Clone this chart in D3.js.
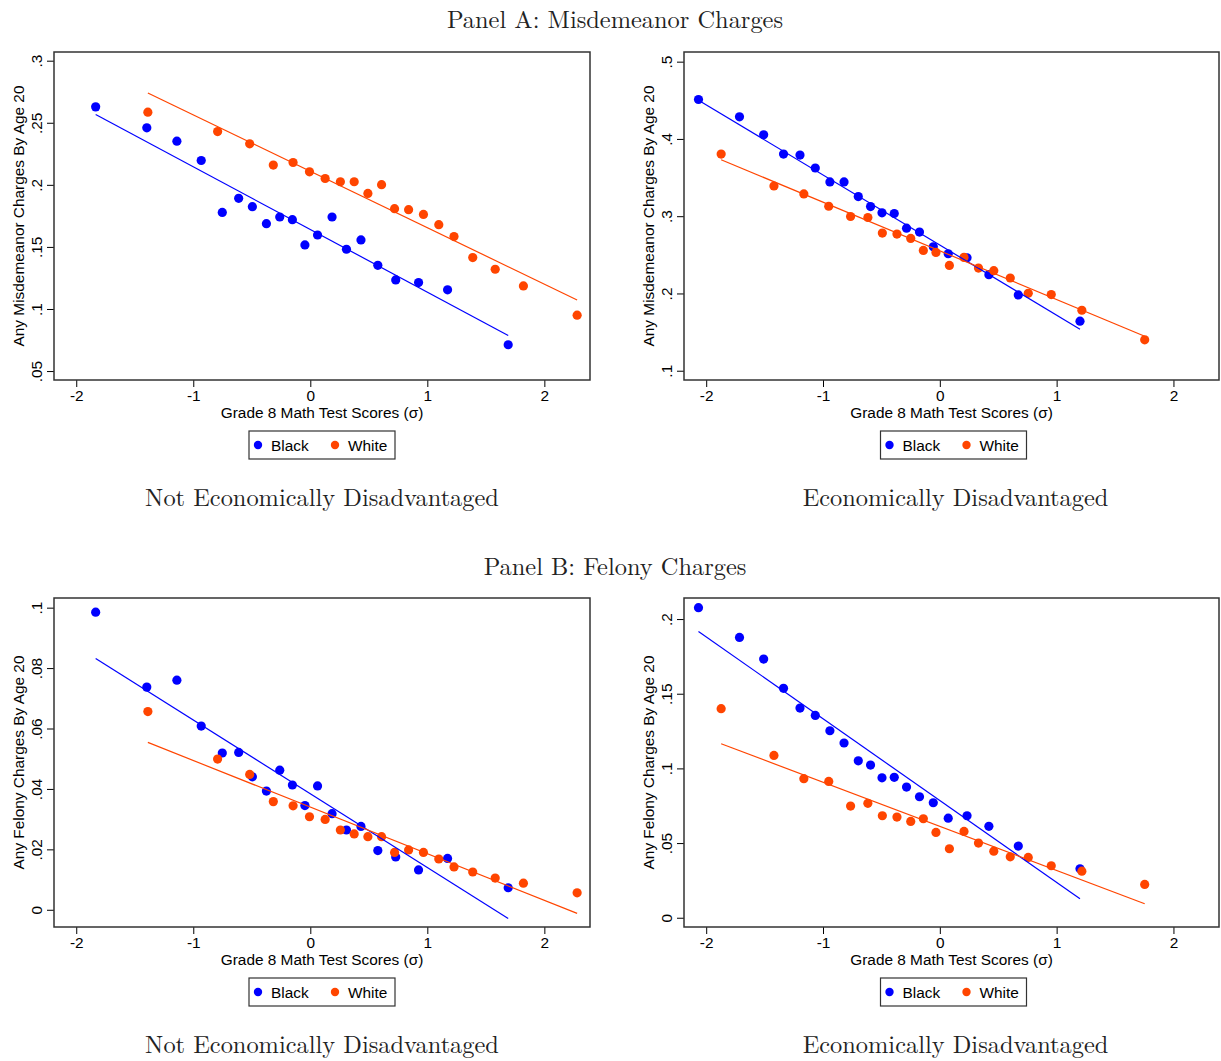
<!DOCTYPE html>
<html><head><meta charset="utf-8">
<script src="https://cdn.jsdelivr.net/npm/d3@7"></script>
<style>body{margin:0;background:#fff}svg{display:block}</style>
</head><body>
<svg id="chart" width="1221" height="1061"></svg>
<script>
// ---- data ----
const seriesNames = ["Black", "White"];
const panelTitles = ["Panel A: Misdemeanor Charges", "Panel B: Felony Charges"];
const groupTitles = ["Not Economically Disadvantaged", "Economically Disadvantaged"];
const xTitle = "Grade 8 Math Test Scores (σ)";
const yTitles = ["Any Misdemeanor Charges By Age 20", "Any Felony Charges By Age 20"];
const xTicks = [-2, -1, 0, 1, 2];
const yTicksMisdNED = [0.05, 0.1, 0.15, 0.2, 0.25, 0.3];
const yTicksMisdED = [0.1, 0.2, 0.3, 0.4, 0.5];
const yTicksFelNED = [0, 0.02, 0.04, 0.06, 0.08, 0.1];
const yTicksFelED = [0, 0.05, 0.1, 0.15, 0.2];

const xBlackNED = [-1.834,-1.397,-1.140,-0.932,-0.752,-0.612,-0.495,-0.375,-0.261,-0.153,-0.046,0.062,0.186,0.309,0.433,0.577,0.730,0.925,1.173,1.691];
const xWhiteNED = [-1.388,-0.792,-0.518,-0.316,-0.147,-0.007,0.127,0.257,0.375,0.492,0.609,0.720,0.840,0.967,1.098,1.228,1.388,1.580,1.821,2.280];
const xBlackED = [-2.066,-1.715,-1.508,-1.338,-1.197,-1.066,-0.941,-0.820,-0.698,-0.593,-0.495,-0.390,-0.285,-0.174,-0.056,0.072,0.233,0.420,0.672,1.200];
const xWhiteED = [-1.872,-1.420,-1.164,-0.951,-0.764,-0.616,-0.492,-0.367,-0.249,-0.141,-0.033,0.082,0.207,0.331,0.462,0.603,0.757,0.954,1.216,1.754];

const misdBlackNED = [0.2628,0.2459,0.2352,0.2196,0.1778,0.1891,0.1824,0.1687,0.1741,0.1719,0.1516,0.1596,0.1741,0.1481,0.1556,0.1352,0.1234,0.1213,0.1154,0.0712];
const misdWhiteNED = [0.2585,0.2429,0.2330,0.2159,0.2180,0.2105,0.2051,0.2025,0.2025,0.1931,0.2001,0.1808,0.1800,0.1762,0.1679,0.1583,0.1414,0.1320,0.1186,0.0950];
const misdBlackED = [0.4510,0.4286,0.4054,0.3804,0.3791,0.3624,0.3443,0.3443,0.3254,0.3125,0.3043,0.3035,0.2845,0.2794,0.2604,0.2514,0.2462,0.2243,0.1981,0.1641];
const misdWhiteED = [0.3804,0.3391,0.3288,0.3129,0.2996,0.2983,0.2781,0.2768,0.2712,0.2557,0.2531,0.2363,0.2467,0.2329,0.2295,0.2200,0.2002,0.1985,0.1783,0.1400];
const felBlackNED = [0.0985,0.0737,0.0760,0.0608,0.0519,0.0521,0.0440,0.0393,0.0462,0.0413,0.0345,0.0410,0.0318,0.0264,0.0276,0.0196,0.0175,0.0132,0.0170,0.0073];
const felWhiteNED = [0.0656,0.0499,0.0448,0.0358,0.0344,0.0308,0.0299,0.0264,0.0251,0.0242,0.0242,0.0190,0.0198,0.0190,0.0168,0.0142,0.0125,0.0105,0.0088,0.0056];
const felBlackED = [0.2076,0.1877,0.1732,0.1536,0.1404,0.1355,0.1252,0.1170,0.1051,0.1022,0.0937,0.0940,0.0875,0.0810,0.0770,0.0667,0.0683,0.0612,0.0480,0.0328];
const felWhiteED = [0.1400,0.1087,0.0931,0.0913,0.0748,0.0766,0.0683,0.0674,0.0645,0.0663,0.0571,0.0462,0.0578,0.0500,0.0446,0.0408,0.0404,0.0348,0.0312,0.0223];

// fitted line values at the lowest and highest x of each series
const fitMisdBlackNED = [0.2566, 0.0787];
const fitMisdWhiteNED = [0.2740, 0.1073];
const fitMisdBlackED = [0.4501, 0.1538];
const fitMisdWhiteED = [0.3731, 0.1447];
const fitFelBlackNED = [0.0832, -0.0029];
const fitFelWhiteNED = [0.0554, -0.0012];
const fitFelBlackED = [0.1917, 0.0127];
const fitFelWhiteED = [0.1165, 0.0094];

// ---- drawing ----
const colors = ["#0000ff", "#ff4500"];
const svg = d3.select("#chart");
const sans = "'Liberation Sans', Arial, Helvetica, sans-serif";
const serif = "'Latin Modern Roman','CMU Serif','DejaVu Serif','Liberation Serif',serif";
const fs = 15.4;

function fmt(v) {
  if (v === 0) return "0";
  let s = d3.format("")(+v.toFixed(4));
  return s.replace(/^0\./, ".").replace(/^-0\./, "-.");
}

function drawPanel(cfg) {
  const {box, yDomain, yTicks, yTitle, bx, by, wx, wy, fitB, fitW, sub, shift} = cfg;
  const g = svg.append("g");
  const x = d3.scaleLinear().domain([-2.19, 2.39]).range([box.left, box.right]);
  const y = d3.scaleLinear().domain(yDomain).range([box.bottom, box.top]);

  // axes
  const xa = g.append("g").attr("transform", `translate(0,${box.bottom})`)
    .call(d3.axisBottom(x).tickValues(xTicks).tickFormat(d => String(d)).tickSize(7).tickSizeOuter(0).tickPadding(3));
  xa.select(".domain").remove();
  xa.selectAll("line").attr("stroke", "#000").attr("stroke-width", 1);
  xa.selectAll("text").attr("font-family", sans).attr("font-size", fs).attr("fill", "#000");

  const ya = g.append("g").attr("transform", `translate(${box.left},0)`)
    .call(d3.axisLeft(y).tickValues(yTicks).tickFormat(fmt).tickSize(7).tickSizeOuter(0));
  ya.select(".domain").remove();
  ya.selectAll("line").attr("stroke", "#000").attr("stroke-width", 1);
  ya.selectAll("text")
    .attr("font-family", sans).attr("font-size", fs).attr("fill", "#000")
    .attr("x", null).attr("dy", null)
    .attr("text-anchor", "middle")
    .attr("transform", "translate(-12,0) rotate(-90)");

  // plot frame
  g.append("rect").attr("x", box.left).attr("y", box.top)
    .attr("width", box.right - box.left).attr("height", box.bottom - box.top)
    .attr("fill", "none").attr("stroke", "#333").attr("stroke-width", 1.5);

  // scatter
  const series = [[bx, by], [wx, wy]];
  series.forEach((s, i) => {
    g.append("g").selectAll("circle").data(s[0].map((v, j) => [v, s[1][j]]))
      .join("circle")
      .attr("cx", d => x(d[0])).attr("cy", d => y(d[1])).attr("r", 4.6)
      .attr("fill", colors[i]);
  });
  // fitted lines
  [[bx, fitB], [wx, fitW]].forEach((s, i) => {
    const pts = [[d3.min(s[0]), s[1][0]], [d3.max(s[0]), s[1][1]]];
    g.append("path").attr("d", d3.line().x(d => x(d[0])).y(d => y(d[1]))(pts))
      .attr("stroke", colors[i]).attr("stroke-width", 1.2).attr("fill", "none");
  });

  // titles
  const cx = (box.left + box.right) / 2;
  g.append("text").attr("x", cx).attr("y", box.bottom + 38).attr("text-anchor", "middle")
    .attr("font-family", sans).attr("font-size", fs).attr("fill", "#000").text(xTitle);
  g.append("text").attr("transform", `translate(${box.left - 30},${(box.top + box.bottom) / 2}) rotate(-90)`)
    .attr("text-anchor", "middle").attr("font-family", sans).attr("font-size", fs).attr("fill", "#000")
    .text(yTitle);

  // legend
  const lw = 146, lh = 28, lx = cx + shift / 2 - lw / 2, ly = box.bottom + 51;
  const lg = g.append("g");
  lg.append("rect").attr("x", lx).attr("y", ly).attr("width", lw).attr("height", lh)
    .attr("fill", "#fff").attr("stroke", "#333").attr("stroke-width", 1.2);
  const offs = [[9, 22], [86, 99]];
  seriesNames.forEach((n, i) => {
    lg.append("circle").attr("cx", lx + offs[i][0]).attr("cy", ly + lh / 2).attr("r", 4.2).attr("fill", colors[i]);
    lg.append("text").attr("x", lx + offs[i][1]).attr("y", ly + lh / 2 + 5.5)
      .attr("font-family", sans).attr("font-size", fs).attr("fill", "#000").text(n);
  });

  // subtitle
  g.append("text").attr("x", cx + shift).attr("y", box.bottom + 126).attr("text-anchor", "middle")
    .attr("font-family", serif).attr("font-size", 24.4).attr("fill", "#222").text(sub);
}

// panel titles
svg.append("text").attr("x", 615).attr("y", 28).attr("text-anchor", "middle")
  .attr("font-family", serif).attr("font-size", 24.4).attr("fill", "#222").text(panelTitles[0]);
svg.append("text").attr("x", 615).attr("y", 575).attr("text-anchor", "middle")
  .attr("font-family", serif).attr("font-size", 24.4).attr("fill", "#222").text(panelTitles[1]);

drawPanel({box:{left:54,right:590,top:52,bottom:380}, yDomain:[0.0428,0.307], yTicks:yTicksMisdNED, yTitle:yTitles[0],
  bx:xBlackNED, by:misdBlackNED, wx:xWhiteNED, wy:misdWhiteNED, fitB:fitMisdBlackNED, fitW:fitMisdWhiteNED, sub:groupTitles[0], shift:0});
drawPanel({box:{left:684,right:1219,top:52,bottom:380}, yDomain:[0.088,0.5125], yTicks:yTicksMisdED, yTitle:yTitles[0],
  bx:xBlackED, by:misdBlackED, wx:xWhiteED, wy:misdWhiteED, fitB:fitMisdBlackED, fitW:fitMisdWhiteED, sub:groupTitles[1], shift:4});
drawPanel({box:{left:54,right:590,top:598,bottom:927}, yDomain:[-0.0057,0.1032], yTicks:yTicksFelNED, yTitle:yTitles[1],
  bx:xBlackNED, by:felBlackNED, wx:xWhiteNED, wy:felWhiteNED, fitB:fitFelBlackNED, fitW:fitFelWhiteNED, sub:groupTitles[0], shift:0});
drawPanel({box:{left:684,right:1219,top:598,bottom:927}, yDomain:[-0.0062,0.2141], yTicks:yTicksFelED, yTitle:yTitles[1],
  bx:xBlackED, by:felBlackED, wx:xWhiteED, wy:felWhiteED, fitB:fitFelBlackED, fitW:fitFelWhiteED, sub:groupTitles[1], shift:4});
</script>
</body></html>
